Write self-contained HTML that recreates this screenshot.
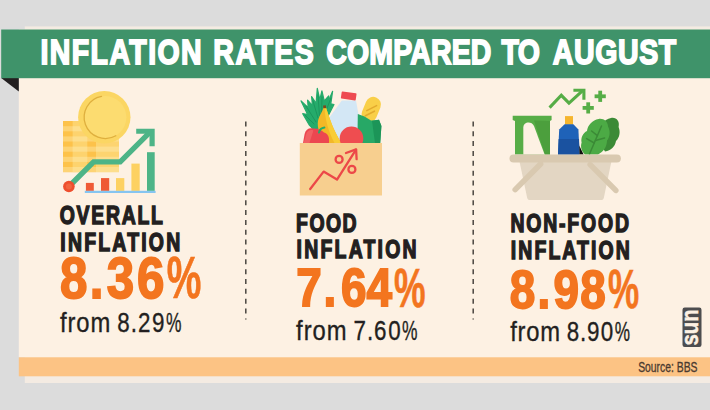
<!DOCTYPE html>
<html lang="en">
<head>
<meta charset="utf-8">
<title>Inflation rates compared to August</title>
<style>
html,body{margin:0;padding:0;background:#dcdcdc;}
body{width:710px;height:410px;overflow:hidden;font-family:"Liberation Sans",sans-serif;}
svg{display:block;}
text{font-family:"Liberation Sans",sans-serif;}
.b{font-weight:bold;}
.ttl{font-weight:bold;font-size:35.6px;fill:#fff;stroke:#fff;stroke-width:1.8px;stroke-linejoin:miter;}
.lbl{font-weight:bold;font-size:24.9px;fill:#231f20;stroke:#231f20;stroke-width:1.4px;stroke-linejoin:miter;}
.num{font-weight:bold;fill:#f3751f;stroke:#f3751f;stroke-width:1.8px;stroke-linejoin:miter;}
.frm{font-size:28px;fill:#231f20;stroke:#231f20;stroke-width:0.35px;}
.src{font-size:14px;fill:#4a3a30;stroke:#4a3a30;stroke-width:0.3px;}
</style>
</head>
<body>
<svg width="710" height="410" viewBox="0 0 710 410">
<!-- BACKGROUND -->
<rect x="0" y="0" width="710" height="410" fill="#dcdcdc"/>
<rect x="24.8" y="26.4" width="685.2" height="356.6" fill="#f4ebe2"/>
<rect x="18.8" y="29.4" width="691.2" height="328" fill="#fdf1e3"/>
<rect x="18.8" y="357.3" width="691.2" height="19" fill="#fcc384"/>
<polygon points="1.2,78 18.8,78 18.8,91.6" fill="#231f20"/>
<rect x="1.2" y="29.5" width="708.8" height="48.7" fill="#3f936a"/>

<!-- TITLE -->
<text class="ttl" transform="translate(0,64) scale(0.8,1)"><tspan x="50.6" textLength="201.4" lengthAdjust="spacing">INFLATION</tspan> <tspan x="266.7" textLength="125.6" lengthAdjust="spacing">RATES</tspan> <tspan x="407.8" textLength="206.4" lengthAdjust="spacing">COMPARED</tspan> <tspan x="627.0" textLength="48.0" lengthAdjust="spacing">TO</tspan> <tspan x="690.9" textLength="154.4" lengthAdjust="spacing">AUGUST</tspan></text>

<!-- DIVIDERS -->
<line x1="245.8" y1="121.4" x2="245.8" y2="319.6" stroke="#4a4540" stroke-width="1.5" stroke-dasharray="5 4.85"/>
<line x1="473.2" y1="121.4" x2="473.2" y2="319.6" stroke="#4a4540" stroke-width="1.5" stroke-dasharray="5 4.85"/>

<!-- ICONS -->
<g id="icon1">
 <!-- coin stacks -->
 <rect x="63" y="121" width="33" height="51.2" fill="#fdc24a"/>
 <rect x="96" y="138" width="23" height="34.2" fill="#fdd470"/>
 <rect x="72.6" y="121" width="14.7" height="51.2" fill="#fee18d" opacity="0.55"/>
 <g fill="#fff3c4" opacity="0.35">
  <rect x="63" y="126.2" width="56" height="5.1"/>
  <rect x="63" y="136.4" width="56" height="5.1"/>
  <rect x="63" y="146.6" width="56" height="5.1"/>
  <rect x="63" y="156.8" width="56" height="5.1"/>
  <rect x="63" y="167" width="56" height="5.2"/>
 </g>
 <!-- big coin -->
 <circle cx="104.3" cy="117.3" r="26.2" fill="#fbd663"/>
 <circle cx="105.2" cy="117.3" r="21.2" fill="#fcdc70"/>
 <path d="M115.8,135.7 A21.2,21.2 0 1 1 101.5,96.4" fill="none" stroke="#d9a836" stroke-width="1.3" stroke-linecap="round" opacity="0.85"/>
 <!-- bars -->
 <rect x="85.9" y="182.9" width="7.9" height="8" fill="#ef5a35"/>
 <rect x="101" y="178.1" width="8.2" height="12.8" fill="#ef5a35"/>
 <rect x="116" y="178.1" width="8.3" height="12.8" fill="#fdd162"/>
 <rect x="131.4" y="163.6" width="8.3" height="27.3" fill="#fdd162"/>
 <rect x="147" y="152.2" width="7.7" height="38.7" fill="#4db487"/>
 <rect x="84.8" y="190.8" width="70.8" height="2.2" fill="#86c5f0"/>
 <!-- growth line -->
 <polyline points="68.9,186.5 93.6,161.9 120.2,161.9 150.5,131.6" fill="none" stroke="#4db487" stroke-width="5.4" stroke-linejoin="miter"/>
 <polygon points="136.2,128.7 154.7,128.7 154.7,146.2 149.5,146.2 149.5,133.8 136.2,133.8" fill="#4db487"/>
 <circle cx="68.9" cy="186.5" r="5.8" fill="#ee4f2e"/>
 <circle cx="68.9" cy="186.5" r="3" fill="#f1653f"/>
</g>
<g id="icon2">
 <!-- herb fronds -->
 <polygon points="309.4,125.2 302.7,113.7 307.6,114.6 301.1,100.9 308.2,107.6 307.6,100.2 312.5,105.7 311.6,96.6 316.1,103.3 317.3,88.4 319.8,99.6 321.9,90.9 324.3,100.9 328.7,96 328.3,101.5 332.6,91.3 330.8,103.8 334,104.5 327.7,116.7 324,127 314,130" fill="#25ab6b" stroke="#25ab6b" stroke-width="1.2" stroke-linejoin="round"/>
 <g fill="none" stroke="#1b945a" stroke-width="0.9" stroke-linecap="round">
  <path d="M316,122 L306,106"/><path d="M318,118 L313,101"/><path d="M319.5,116 L318,95"/><path d="M321.5,116 L322,97"/><path d="M324,116 L331,98"/><path d="M314,124 L305,115"/>
 </g>
 <!-- milk bottle -->
 <path d="M341.8,100.5 L356,100.5 L358.6,115 L359,143 L329,143 L329,118 Z" fill="#d3e7f5"/>
 <rect x="341.2" y="92.4" width="15" height="7.2" rx="0.8" fill="#ee4a50" transform="rotate(8 348.8 96)"/>
 <!-- bread -->
 <rect x="363.5" y="96.5" width="15.5" height="26" rx="7.7" fill="#f9cf48" transform="rotate(22 371.2 109.5)"/>
 <g stroke="#e3ab2e" stroke-width="1.6" stroke-linecap="round">
  <line x1="366.8" y1="110.6" x2="376.6" y2="105.6"/>
  <line x1="365.4" y1="115.8" x2="374.4" y2="111.2"/>
 </g>
 <!-- lettuce -->
 <path d="M357.8,114 L364.5,116.5 L371,120.5 L379,119.8 L381.4,126 L380.2,143 L359.5,143 L357.6,128 Z" fill="#27a866"/>
 <path d="M372,121 L379,119.8 L381.4,126 L380.2,143 L375,143 Z" fill="#1c9558"/>
 <!-- banana -->
 <path d="M323.6,107 L325.8,107 C329.5,118 333.5,131 341.5,143 L326.5,143 C320,137 316.8,127.5 318,121 C319.2,115 322.6,112 323.6,107 Z" fill="#f3b827"/>
 <path d="M325.8,107 C329.5,118 333.5,131 341.5,143 L334.5,143 C328,131 325.2,119 324.4,107 Z" fill="#f9cd35"/>
 <rect x="323.2" y="105.4" width="2.8" height="2.8" fill="#7a4a1e"/>
 <!-- pepper -->
 <path d="M303,143 L304.6,134 C305.6,129.6 309,127.6 313,128.6 C317,128 321,129.6 324,132.4 C328,133.4 329.6,137 329,143 Z" fill="#ec4750"/>
 <path d="M306.6,133 C308,130 311,129.4 313.4,130.4 L309.4,143 L303.6,143 Z" fill="#f26868" opacity="0.8"/>
 <path d="M319,132.6 C319.6,129.6 321.6,128 324.4,127.6" fill="none" stroke="#22ad6c" stroke-width="2" stroke-linecap="round"/>
 <!-- tomato -->
 <circle cx="351.5" cy="138.4" r="11.8" fill="#ef4d50"/>
 <!-- box -->
 <rect x="299.8" y="143" width="82.2" height="52.5" fill="#f7cf8f"/>
 <!-- arrow + percent -->
 <g fill="none" stroke="#ec4848" stroke-width="2.3" stroke-linecap="round" stroke-linejoin="round">
  <polyline points="310.2,189 323.6,171.6 337,179.6 356,149.6"/>
  <polyline points="346,153 356.1,149.4 356.6,159.2"/>
  <circle cx="339.1" cy="159.4" r="3.5"/>
  <circle cx="351.9" cy="169.4" r="3.5"/>
 </g>
</g>
<g id="icon3">
 <!-- chart arrow + plus signs -->
 <g fill="none" stroke="#56ad46" stroke-width="3.1" stroke-linejoin="miter">
  <polyline points="549.6,107.6 561.3,95.3 569,103.1 582.4,90.9"/>
  <polyline points="573.4,90.3 583.9,90.3 583.9,99.8"/>
 </g>
 <g fill="#56ad46">
  <rect x="594.6" y="94.4" width="11.2" height="3.8"/><rect x="598.3" y="90.7" width="3.8" height="11.2"/>
  <rect x="582.6" y="106" width="11.2" height="3.8"/><rect x="586.3" y="102.3" width="3.8" height="11.2"/>
 </g>
 <!-- green bag -->
 <path d="M512.7,115.8 L551.6,115.8 L551.6,120 L550,121 L550,154.5 L515,154.5 L515,121 L512.7,120 Z" fill="#57ad47"/>
 <path d="M534,120.6 L550,121 L550,154.5 L545,154.5 Z" fill="#4c9f3d"/>
 <path d="M523.3,154.5 L523.3,127.5 C523.3,121.6 531.6,120.6 534,126 L544.6,154.5 Z" fill="#fdf1e3"/>
 <!-- bottle -->
 <rect x="565" y="116.1" width="8" height="8.6" fill="#f5b52e"/>
 <path d="M564.6,124.3 L573.4,124.3 L578.4,129.5 L579.6,154.5 L558,154.5 L559.2,129.5 Z" fill="#1f62b8"/>
 <path d="M558.6,139 L579,139 L579.6,154.5 L558,154.5 Z" fill="#1a52a0"/>
 <path d="M579.2,145.5 L583.6,154.5 L579.6,154.5 Z" fill="#0e0e0e"/>
 <!-- leaves -->
 <path d="M611,118 C616.5,117 620,121.5 618.6,127 C620.6,132 619.6,137.6 616,141 C615,146.6 611,150.6 605,151.5 L598,140 L602,124 C604,120.6 607.6,118.6 611,118 Z" fill="#3b8a36"/>
 <path d="M598.6,118.9 C603.6,118 608,121.6 608,126.4 C610.6,131 610,137 607,140.6 C607,146.6 603.6,152 598,154.5 L585,154.5 C581.6,151.6 580.2,147 581.6,142.6 C580.6,137.6 583,133 587,131 C587.6,125 592.6,119.9 598.6,118.9 Z" fill="#4caa45"/>
 <g fill="none" stroke="#3b8a36" stroke-width="1.5" stroke-linecap="round">
  <path d="M589.5,154 L601.5,126"/>
  <path d="M594.2,143 L586.6,138.6"/>
  <path d="M597.4,135.6 L591.6,131"/>
  <path d="M595.4,140.5 L604.6,138"/>
 </g>
 <!-- basket -->
 <path d="M519.2,160 L611.7,160 L603.9,197.5 C603.5,199.3 602.6,200.1 601,200.1 L530,200.1 C528.4,200.1 527.5,199.3 527.1,197.5 Z" fill="#e3d6c3"/>
 <rect x="509.5" y="154.4" width="111.4" height="8.1" rx="4" fill="#d9c9b0"/>
 <g stroke="#d9c9b0" stroke-width="5.6" stroke-linecap="round">
  <line x1="540.6" y1="164" x2="515.2" y2="189.6"/>
  <line x1="590.2" y1="164.6" x2="615.8" y2="190.4"/>
 </g>
</g>

<!-- TEXT BLOCK 1 -->
<g id="blk1">
<text class="lbl" transform="translate(59.8,224.2) scale(0.78,1)" textLength="132.1" lengthAdjust="spacing">OVERALL</text>
<text class="lbl" transform="translate(60.3,250.6) scale(0.78,1)" textLength="153.7" lengthAdjust="spacing">INFLATION</text>
<text class="num" font-size="58" transform="translate(60.1,297.7) scale(0.85,1)" x="0.0 35.0 54.9 90.5">8.36</text>
<text class="num" font-size="59.5" style="stroke-width:0.6px" transform="translate(166.7,298.3) scale(0.654,1)">%</text>
<text class="frm" transform="translate(59.9,332.1) scale(0.85,1)" textLength="59.4" lengthAdjust="spacing">from</text>
<text class="frm" transform="translate(117.3,332.1) scale(0.8,1)" x="0.0 16.9 25.8 43.3">8.29</text>
<text class="frm" transform="translate(165.9,332.1) scale(0.622,1)">%</text>
</g>

<!-- TEXT BLOCK 2 -->
<g id="blk2">
<text class="lbl" transform="translate(296.1,232.2) scale(0.78,1)" textLength="77.4" lengthAdjust="spacing">FOOD</text>
<text class="lbl" transform="translate(296.6,258.2) scale(0.78,1)" textLength="153.8" lengthAdjust="spacing">INFLATION</text>
<text class="num" font-size="54" transform="translate(296.2,305.9) scale(0.85,1)" x="0.0 32.2 52.8 82.8">7.64</text>
<text class="num" font-size="55.5" style="stroke-width:0.6px" transform="translate(394.0,306.5) scale(0.639,1)">%</text>
<text class="frm" transform="translate(296.1,340.0) scale(0.85,1)" textLength="59.4" lengthAdjust="spacing">from</text>
<text class="frm" transform="translate(353.5,340.0) scale(0.8,1)" x="0.0 16.9 25.7 43.3">7.60</text>
<text class="frm" transform="translate(402.1,340.0) scale(0.622,1)">%</text>
</g>

<!-- TEXT BLOCK 3 -->
<g id="blk3">
<text class="lbl" transform="translate(510.4,232.2) scale(0.78,1)" textLength="152.0" lengthAdjust="spacing">NON-FOOD</text>
<text class="lbl" transform="translate(510.8,259.0) scale(0.78,1)" textLength="152.5" lengthAdjust="spacing">INFLATION</text>
<text class="num" font-size="54" transform="translate(509.7,307.7) scale(0.85,1)" x="0.0 32.8 51.6 83.1">8.98</text>
<text class="num" font-size="55.5" style="stroke-width:0.6px" transform="translate(608.1,308.3) scale(0.632,1)">%</text>
<text class="frm" transform="translate(510.2,341.2) scale(0.85,1)" textLength="58.6" lengthAdjust="spacing">from</text>
<text class="frm" transform="translate(566.7,341.2) scale(0.8,1)" x="0.0 16.7 25.4 42.7">8.90</text>
<text class="frm" transform="translate(614.7,341.2) scale(0.613,1)">%</text>
</g>

<!-- SOURCE -->
<text class="src" x="638.2" y="371.5" textLength="59.3" lengthAdjust="spacingAndGlyphs">Source: BBS</text>

<!-- SUN LOGO -->
<g id="sun">
<rect x="682.5" y="307.5" width="19" height="39.5" rx="2.2" fill="#4d4d4f"/>
<text class="b" transform="translate(698.3,345.4) rotate(-90)" font-size="24.5" fill="#fdf1e3" stroke="#fdf1e3" stroke-width="0.5" textLength="36" lengthAdjust="spacingAndGlyphs">sun</text>
</g>
</svg>
</body>
</html>
